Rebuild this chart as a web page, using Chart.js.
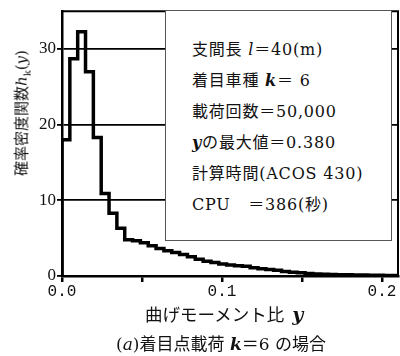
<!DOCTYPE html>
<html>
<head>
<meta charset="utf-8">
<script src="https://cdn.jsdelivr.net/npm/chart.js@4.4.1/dist/chart.umd.min.js"></script>
<style>
  body { margin: 0; background: #fff; }
  #wrap { position: relative; width: 400px; height: 356px; overflow: hidden; }
  #chart { position: absolute; left: 0; top: 0; }
  .txt { position: absolute; white-space: nowrap; color: #111;
         font-family: "DejaVu Serif", "Noto Sans CJK JP", serif; }
  #ytitle { left: 21px; top: 113px; font-size: 15px;
            transform: translate(-50%, -50%) rotate(-90deg); }
  #xtitle { left: 145px; top: 313px; font-size: 17.5px; transform: translateY(-50%);
            font-family: "Noto Sans CJK JP", sans-serif; }
  #caption { left: 221px; top: 342px; font-size: 17px; transform: translate(-50%, -50%);
             font-family: "DejaVu Serif", "Noto Sans CJK JP", serif; }
  #info { position: absolute; left: 165px; top: 10px; width: 227px; height: 231px;
          box-sizing: border-box; border: 1.5px solid #555; background: #fff; }
  #info div { position: absolute; left: 26px; font-size: 16px; white-space: nowrap;
              letter-spacing: 0.8px;
              font-family: "DejaVu Serif", "Noto Sans CJK JP", serif; color: #111;
              transform: translateY(-50%); }
</style>
</head>
<body>
<div id="wrap">
  <canvas id="chart" width="400" height="356"></canvas>
  <div class="txt" id="ytitle">確率密度関数<i>h</i><sub style="font-size:10px">k</sub>(<i>y</i>)</div>
  <div class="txt" id="xtitle">曲げモーメント比&nbsp;&nbsp;<b><i style="font-family:'DejaVu Serif',serif;font-size:19px">y</i></b></div>
  <div class="txt" id="caption">(<i>a</i>)着目点載荷 <b><i>k</i></b>＝6 の場合</div>
  <div id="info">
    <div style="top:37px">支間長 <i>l</i>＝40(m)</div>
    <div style="top:68px">着目車種 <b><i>k</i></b>＝ 6</div>
    <div style="top:99px">載荷回数＝50,000</div>
    <div style="top:130px"><b><i>y</i></b>の最大値＝0.380</div>
    <div style="top:161px">計算時間(ACOS 430)</div>
    <div style="top:192px">CPU&nbsp;&nbsp;&nbsp;＝386(秒)</div>
  </div>
</div>
<script>
// histogram of moment ratio y
const binWidth = 0.0049;
const densityValues = [18.0, 28.7, 32.3, 27.0, 18.3, 10.9, 8.3, 6.3, 4.8, 4.65,
    4.4, 4.0, 3.65, 3.35, 3.1, 2.85, 2.55, 2.2, 1.95, 1.8,
    1.6, 1.45, 1.35, 1.3, 1.1, 0.95, 0.85, 0.75, 0.6, 0.5,
    0.42, 0.33, 0.28, 0.24, 0.2, 0.17, 0.15, 0.13, 0.12, 0.1,
    0.1, 0.08, 0.08];
const xRange = [0, 0.21];
const xTickStep = 0.05;
const yRange = [0, 35];
const yTickStep = 10;

function histogramPoints() {
    const points = [{ x: 0, y: 0 }];
    densityValues.forEach((v, i) => points.push({ x: i * binWidth, y: v }));
    const last = densityValues[densityValues.length - 1];
    points.push({ x: densityValues.length * binWidth, y: last });
    return points;
}

// top and right edges of the frame
const framePlugin = {
    id: "frame",
    afterDraw(chart) {
        const { ctx, chartArea: a } = chart;
        ctx.save();
        ctx.strokeStyle = "#000";
        ctx.lineWidth = 2;
        ctx.beginPath();
        ctx.moveTo(a.left, a.top);
        ctx.lineTo(a.right, a.top);
        ctx.lineTo(a.right, a.bottom);
        ctx.stroke();
        ctx.restore();
    }
};

new Chart(document.getElementById("chart"), {
    type: "line",
    data: {
        datasets: [{
            data: histogramPoints(),
            stepped: true,
            borderColor: "#000",
            borderWidth: 3.5,
            pointRadius: 0,
            fill: false
        }]
    },
    options: {
        responsive: false,
        animation: false,
        layout: { padding: { top: 5, right: 2, left: 0, bottom: 0 } },
        plugins: { legend: { display: false }, tooltip: { enabled: false } },
        scales: {
            x: {
                type: "linear",
                min: xRange[0],
                max: xRange[1],
                afterFit: (s) => { s.height = 80; },
                border: { color: "#000", width: 2.5 },
                grid: { drawOnChartArea: false, color: "#000", lineWidth: 2.5, tickLength: 6 },
                ticks: {
                    stepSize: xTickStep,
                    includeBounds: false,
                    autoSkip: false,
                    maxRotation: 0,
                    padding: 0,
                    color: "#111",
                    font: { family: "Liberation Mono", size: 16 },
                    callback: (v) => {
                        const r = Math.round(v / xTickStep);
                        return r % 2 === 0 ? (r * xTickStep).toFixed(1) : "";
                    }
                }
            },
            y: {
                min: yRange[0],
                max: yRange[1],
                afterFit: (s) => { s.width = 62; },
                border: { color: "#000", width: 2.5 },
                grid: { color: "#000", lineWidth: 1.8, tickLength: 5 },
                ticks: {
                    stepSize: yTickStep,
                    includeBounds: false,
                    padding: 1,
                    color: "#111",
                    font: { family: "Liberation Serif", size: 17 }
                }
            }
        }
    },
    plugins: [framePlugin]
});
</script>
</body>
</html>
